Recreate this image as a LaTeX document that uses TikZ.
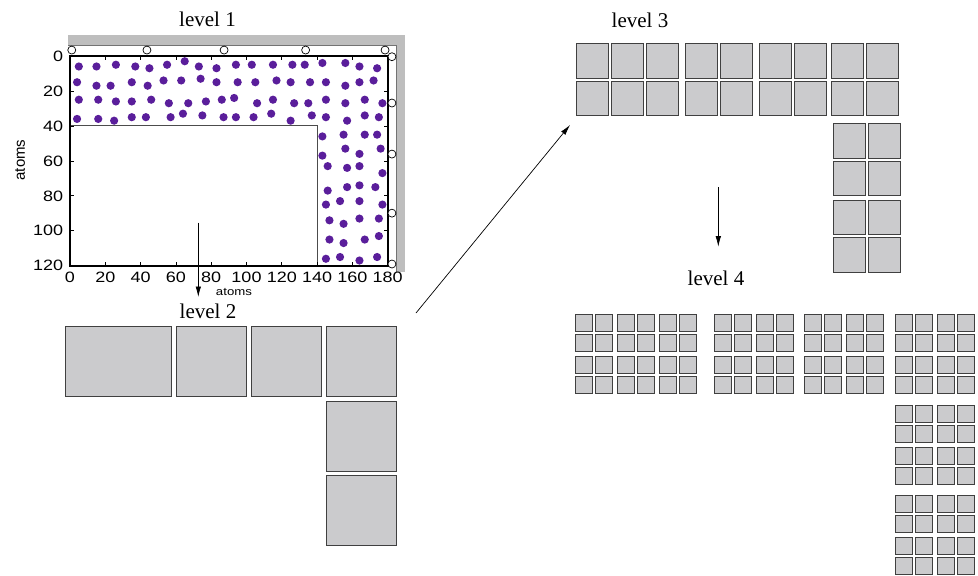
\documentclass[tikz,border=0pt]{standalone}
\usepackage{fontspec}
\setmainfont{Liberation Serif}
\newfontfamily\plotfont[FakeStretch=1.2]{Liberation Sans}
\newfontfamily\plotfontup{Liberation Sans}
\usetikzlibrary{arrows.meta}
\definecolor{cellgray}{RGB}{203,203,205}
\definecolor{bandgray}{RGB}{190,190,190}
\definecolor{atomviolet}{RGB}{90,30,155}

\begin{document}
\begin{tikzpicture}[
  x=1pt, y=-1pt,
  lvl/.style={font=\fontsize{21}{25}\selectfont, inner sep=0pt},
  cell/.style={draw=black!75, fill=cellgray, line width=1pt, inner sep=0pt},
  ticklab/.style={font=\plotfont\fontsize{15}{18}\selectfont, inner sep=0pt},
  tick/.style={line width=0.7pt},
  bead/.style={circle, draw, fill=white, line width=0.7pt, minimum size=8pt, inner sep=0pt},
  arr/.style={-{Latex[length=10.5pt,width=5.5pt]}, line width=0.7pt}
]
\useasboundingbox (0,0) rectangle (978,576);

% level 1
\node[lvl] (lvl1) at (207.5,19) {level 1};
\begin{scope}[shift={(70,56)}, x=1.765pt, y=-1.748pt]
  \fill[bandgray] (-1.1,-12) rectangle (189.8,-5.9);
  \fill[bandgray] (185.3,-5.9) rectangle (189.8,123.6);
  \draw[black!55, line width=0.6pt] (-1.1,-5.9) -- (185,-5.9) -- (185,123.6);
  \foreach \x/\y in {5/6, 15/6, 26/5, 37/6, 45/7, 55/5, 65/3, 73/6, 83/7, 94/5, 103/5, 115/5, 126/5, 133/5, 143/4, 156/4, 164/6, 174/7,
    4/15, 15/17, 23/17, 35/15, 44/17, 53/14, 63/14, 74/13, 83/15, 95/15, 105/15, 117/14, 125/15, 136/15, 145/15, 156/17, 164/15, 172/14,
    5/25, 16/25, 26/26, 35/26, 46/25, 56/27, 67/27, 77/26, 86/25, 93/24, 106/27, 115/25, 127/27, 135/27, 145/25, 156/27, 167/25, 177/27,
    4/36, 16/36, 25/37, 35/35, 43/35, 57/35, 64/33, 75/34, 87/35, 94/35, 104/35, 114/33, 125/37, 137/34, 145/35, 157/37, 167/34, 175/35,
    143/46, 155/45, 167/45, 174/45, 176/53, 156/53, 143/57, 164/56, 146/63, 157/64, 164/63, 177/67,
    157/75, 164/74, 173/75, 146/77, 145/85, 153/83, 164/83, 177/85, 147/94, 155/96, 164/93, 175/93,
    147/105, 155/107, 167/105, 175/103, 145/116, 153/115, 164/117, 174/115}
    \fill[atomviolet] (\x,\y) circle (4.1pt);
  \draw[black!70, line width=0.9pt] (0,40) -- (140,40) -- (140,120);
  \foreach \x in {0,20,...,180} {
    \draw[tick] (\x,120) -- ++(0,-2.3);
    \draw[tick] (\x,0) -- ++(0,2.3);
    \node[ticklab] (xt\x) at (\x,126.8) {\x};
  }
  \foreach \y in {0,20,...,120} {
    \draw[tick] (0,\y) -- ++(2.3,0);
    \draw[tick] (180,\y) -- ++(-2.3,0);
    \node[ticklab, anchor=east] (yt\y) at (-3.8,\y) {\y};
  }
  \draw[line width=1.6pt] (0,0) rectangle (180,120);
  \foreach \x [count=\i] in {1,43.6,87.3,133.5,178.5}
    \node[bead] (top\i) at (\x,-3.4) {};
  \foreach \y [count=\i] in {0.4,26.9,56.1,89.9,119}
    \node[bead] (side\i) at (182.4,\y) {};
  \node[ticklab, font=\plotfont\fontsize{11}{13}\selectfont] (xlab) at (92.9,135.2) {atoms};
  \node[ticklab, font=\plotfontup\fontsize{15}{18}\selectfont, rotate=90] (ylab) at (-28.3,59.5) {atoms};
\end{scope}

% level 2
\node[lvl] (lvl2) at (208,311.3) {level 2};
\node[cell, minimum width=105.4pt, minimum height=70pt] (l2-0) at (118.5,361.2) {};
\foreach \x/\y [count=\i] in {211/361.2, 286/361.2, 361/361.2, 361/436.2, 361/510.8}
  \node[cell, minimum size=70pt] (l2-\i) at (\x,\y) {};

% level 3
\node[lvl] (lvl3) at (640,20) {level 3};
\foreach \bx/\by/\nc [count=\blk] in {575.7/43.3/3, 685/43.3/2, 758.7/43.3/2, 831/43.3/2, 833/123/2, 833/199.7/2}
  \foreach \col in {1,...,\nc}
    \foreach \row in {1,2}
      \node[cell, minimum width=32pt, minimum height=34.5pt] (l3-\blk-\col-\row)
        at ({\bx+16.5+(\col-1)*35}, {\by+17.75+(\row-1)*37.5}) {};

% level 4
\node[lvl] (lvl4) at (716,278.8) {level 4};
\foreach \bx/\by/\nc [count=\blk] in {575/314.3/3, 713.7/314.3/2, 804.3/314.3/2, 895/314.3/2, 895/405.3/2, 895/495.3/2}
  \foreach \col in {1,...,\nc}
    \foreach \row in {1,2}
      \foreach \sx in {0,1}
        \foreach \sy in {0,1}
          \node[cell, minimum size=17pt] (l4-\blk-\col\sx-\row\sy)
            at ({\bx+9+(\col-1)*42+\sx*20}, {\by+9+(\row-1)*42+\sy*20}) {};

\coordinate (a1s) at (198.3,222.7);
\coordinate (a1e) at (198.3,297);
\coordinate (a2s) at (416,313);
\coordinate (a2e) at (570,125);
\coordinate (a3s) at (718.3,187.3);
\coordinate (a3e) at (718.3,246.7);
\draw[arr] (a1s) -- (a1e);
\draw[arr] (a2s) -- (a2e);
\draw[arr] (a3s) -- (a3e);

\end{tikzpicture}
\end{document}
